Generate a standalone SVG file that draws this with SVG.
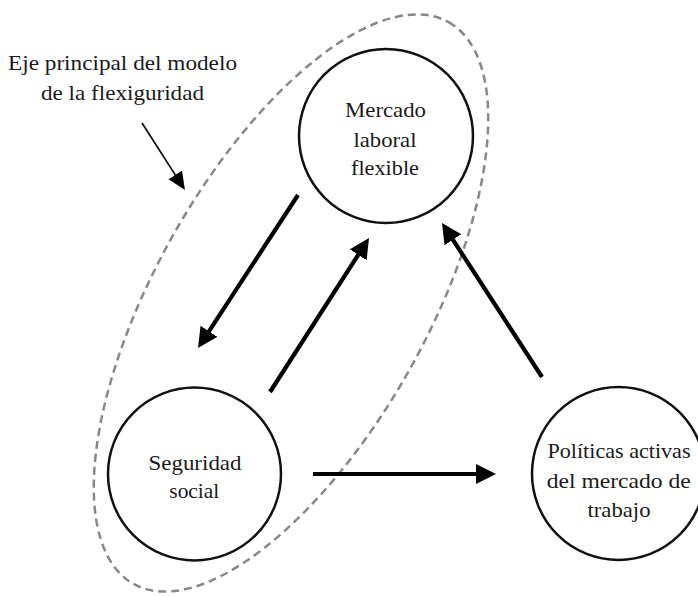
<svg xmlns="http://www.w3.org/2000/svg" width="698" height="596" viewBox="0 0 698 596">
<style>
.lbl{font-family:"Liberation Serif","Times New Roman",serif;font-size:21.5px;fill:#1a1a1a;text-anchor:middle}
.node{fill:#fff;stroke:#111;stroke-width:2.5}
.arr{stroke:#000;stroke-width:4.2;fill:none;marker-end:url(#ah)}
.ptr{stroke:#000;stroke-width:1.6;fill:none;marker-end:url(#ahs)}
.axis{fill:none;stroke:#888;stroke-width:2.5;stroke-dasharray:8 5}
</style>
<defs>
<marker id="ah" markerUnits="userSpaceOnUse" markerWidth="22" markerHeight="22" refX="12" refY="10" orient="auto">
<path d="M0,0 L20,10 L0,20 z" fill="#000"/>
</marker>
<marker id="ahs" markerUnits="userSpaceOnUse" markerWidth="20" markerHeight="18" refX="14" refY="8" orient="auto">
<path d="M0,0 L18,8 L0,16 z" fill="#000"/>
</marker>
</defs>
<rect width="698" height="596" fill="#fff"/>
<g id="eje">
<ellipse class="axis" cx="291" cy="303" rx="322" ry="136" transform="rotate(-60.7 291 303)"/>
<text class="lbl" x="122.5" y="70" textLength="229" lengthAdjust="spacingAndGlyphs">Eje principal del modelo</text>
<text class="lbl" x="122.5" y="100" textLength="163" lengthAdjust="spacingAndGlyphs">de la flexiguridad</text>
</g>
<g id="connectors">
<line class="ptr" x1="142" y1="123" x2="182.8" y2="186.6"/>
<line class="arr" x1="298" y1="195" x2="202.4" y2="341.3"/>
<line class="arr" x1="270" y1="392" x2="364.7" y2="244.7"/>
<line class="arr" x1="542" y1="377" x2="446.4" y2="229.7"/>
<line class="arr" x1="313" y1="474" x2="488" y2="474"/>
</g>
<g id="mercado">
<circle class="node" cx="386" cy="136" r="87"/>
<text class="lbl" x="385.5" y="117" textLength="81" lengthAdjust="spacingAndGlyphs">Mercado</text>
<text class="lbl" x="385" y="146.5" textLength="63" lengthAdjust="spacingAndGlyphs">laboral</text>
<text class="lbl" x="385" y="175" textLength="68" lengthAdjust="spacingAndGlyphs">flexible</text>
</g>
<g id="seguridad">
<circle class="node" cx="194.5" cy="474" r="86.5"/>
<text class="lbl" x="195" y="470" textLength="93" lengthAdjust="spacingAndGlyphs">Seguridad</text>
<text class="lbl" x="194.3" y="498.3" textLength="50" lengthAdjust="spacingAndGlyphs">social</text>
</g>
<g id="politicas">
<circle class="node" cx="618.5" cy="473.5" r="86.5"/>
<text class="lbl" x="619" y="458.3" textLength="143" lengthAdjust="spacingAndGlyphs">Políticas activas</text>
<text class="lbl" x="618.7" y="488.3" textLength="144" lengthAdjust="spacingAndGlyphs">del mercado de</text>
<text class="lbl" x="619" y="516.7" textLength="63" lengthAdjust="spacingAndGlyphs">trabajo</text>
</g>
</svg>
